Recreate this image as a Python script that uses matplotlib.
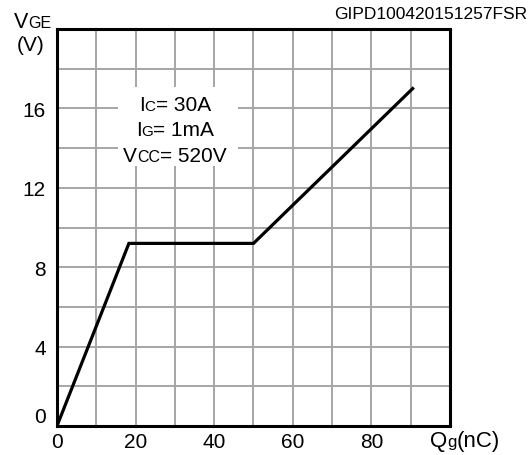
import matplotlib
matplotlib.use("Agg")
import matplotlib.pyplot as plt
from matplotlib.patches import Rectangle
from matplotlib import transforms

plt.rcParams['font.family'] = ['Liberation Sans', 'DejaVu Sans']

# gate charge curve
qg = [0, 18.3, 50, 90.5]
vge = [0, 9.2, 9.2, 17.0]

x_ticks = list(range(0, 101, 10))
x_labels = ['0', '', '20', '', '40', '', '60', '', '80', '', '']
y_ticks = list(range(0, 21, 2))
y_labels = ['0', '', '4', '', '8', '', '12', '', '16', '', '']

cond_lines = [[('I', 15), ('C', 11), ('= 30A', 15)],
              [('I', 15), ('G', 11), ('= 1mA', 15)],
              [('V', 15), ('CC', 11.5), ('= 520V', 15)]]


def rich_text(fig, x, y, parts, transform, ha='center'):
    # draw pieces side by side on a shared baseline
    renderer = fig.canvas.get_renderer()
    texts, widths = [], []
    for s, size in parts:
        t = fig.text(0, 0, s, fontsize=size, va='baseline', ha='left',
                     transform=transform, zorder=5)
        t.set_position((x, y))
        widths.append(t.get_window_extent(renderer).width)
        texts.append(t)
    total = sum(widths)
    start = {'center': -total / 2, 'left': 0, 'right': -total}[ha]
    off = start
    for t, w in zip(texts, widths):
        t.set_transform(transforms.offset_copy(transform, fig=fig, x=off * 72 / fig.dpi, y=0, units='points'))
        off += w


fig = plt.figure(figsize=(5.31, 4.56), dpi=100)
ax = fig.add_axes([0.1073, 0.0636, 0.7402, 0.8706])

ax.set_xlim(0, 100)
ax.set_ylim(0, 20)
ax.set_xticks(x_ticks)
ax.set_xticklabels(x_labels, fontsize=15)
ax.set_yticks(y_ticks)
ax.set_yticklabels(y_labels, fontsize=15)
ax.get_yticklabels()[0].set_va('bottom')
ax.tick_params(length=0, pad=4)
ax.tick_params(axis='y', pad=8)
ax.grid(True, color='#a6a6a6', linewidth=1.4)
ax.set_axisbelow(True)
for sp in ax.spines.values():
    sp.set_linewidth(2.2)

ax.plot(qg, vge, color='black', linewidth=2.3, zorder=4, solid_joinstyle='miter')

ax.add_patch(Rectangle((15.5, 13.1), 30.5, 4.0, facecolor='white', edgecolor='none', zorder=1))

fig.canvas.draw()
line_y = [15.9, 14.65, 13.35]
for parts, yy in zip(cond_lines, line_y):
    rich_text(fig, 30.0, yy, parts, ax.transData)

rich_text(fig, 0.062, 0.938, [('V', 15.5), ('GE', 11.5)], fig.transFigure)
fig.text(0.058, 0.888, '(V)', fontsize=15, ha='center', va='baseline')
rich_text(fig, 0.809, 0.019, [('Q', 16), ('g', 12), ('(nC)', 16)], fig.transFigure, ha='left')
fig.text(0.993, 0.958, 'GIPD100420151257FSR', fontsize=12.5, ha='right', va='baseline')

fig.savefig('out.png', dpi=100)
